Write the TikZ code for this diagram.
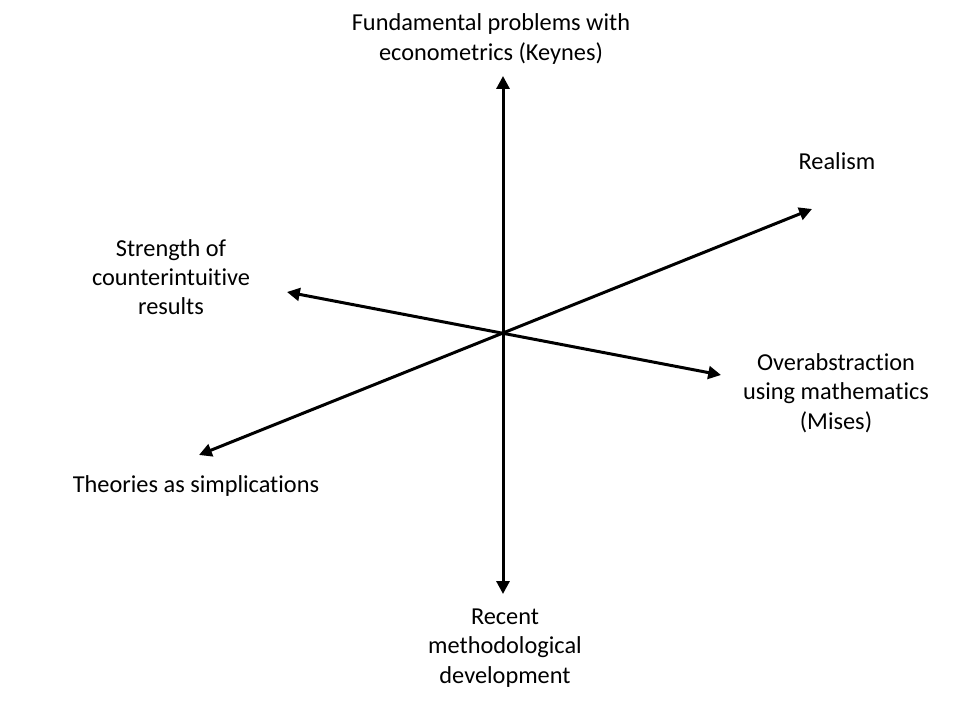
\documentclass[tikz,border=0pt]{standalone}
\usepackage{fontspec}
\setmainfont[Ligatures={NoCommon}]{Carlito}
\usetikzlibrary{arrows.meta}
\tikzset{
  axis/.style={{Triangle[length=3.2mm, width=3.2mm]}-{Triangle[length=3.2mm, width=3.2mm]}, line width=0.75mm},
  lbl/.style={align=center, font=\fontsize{17.3}{20.8}\selectfont, inner sep=0pt},
}

\begin{document}
\begin{tikzpicture}[x=0.025cm, y=-0.025cm]
\useasboundingbox (0,0) rectangle (960,720);
% axis ends
\coordinate (top) at (503,76);
\coordinate (bot) at (503,594);
\coordinate (ne) at (812,209);
\coordinate (sw) at (199,455);
\coordinate (nw) at (287,292);
\coordinate (se) at (721,375);
% labels
\node[lbl] (keynes) at (491,39) {Fundamental problems with\\econometrics (Keynes)};
\node[lbl] (real) at (837,161) {Realism};
\node[lbl] (strength) at (171,277) {Strength of\\counterintuitive\\results};
\node[lbl] (mises) at (836,393) {Overabstraction\\using mathematics\\(Mises)};
\node[lbl] (simpl) at (196,486) {Theories as simplications};
\node[lbl] (recent) at (505,648) {Recent\\methodological\\development};
% axes
\draw[axis] (bot) -- (top);
\draw[axis] (sw) -- (ne);
\draw[axis] (nw) -- (se);
\end{tikzpicture}
\end{document}
